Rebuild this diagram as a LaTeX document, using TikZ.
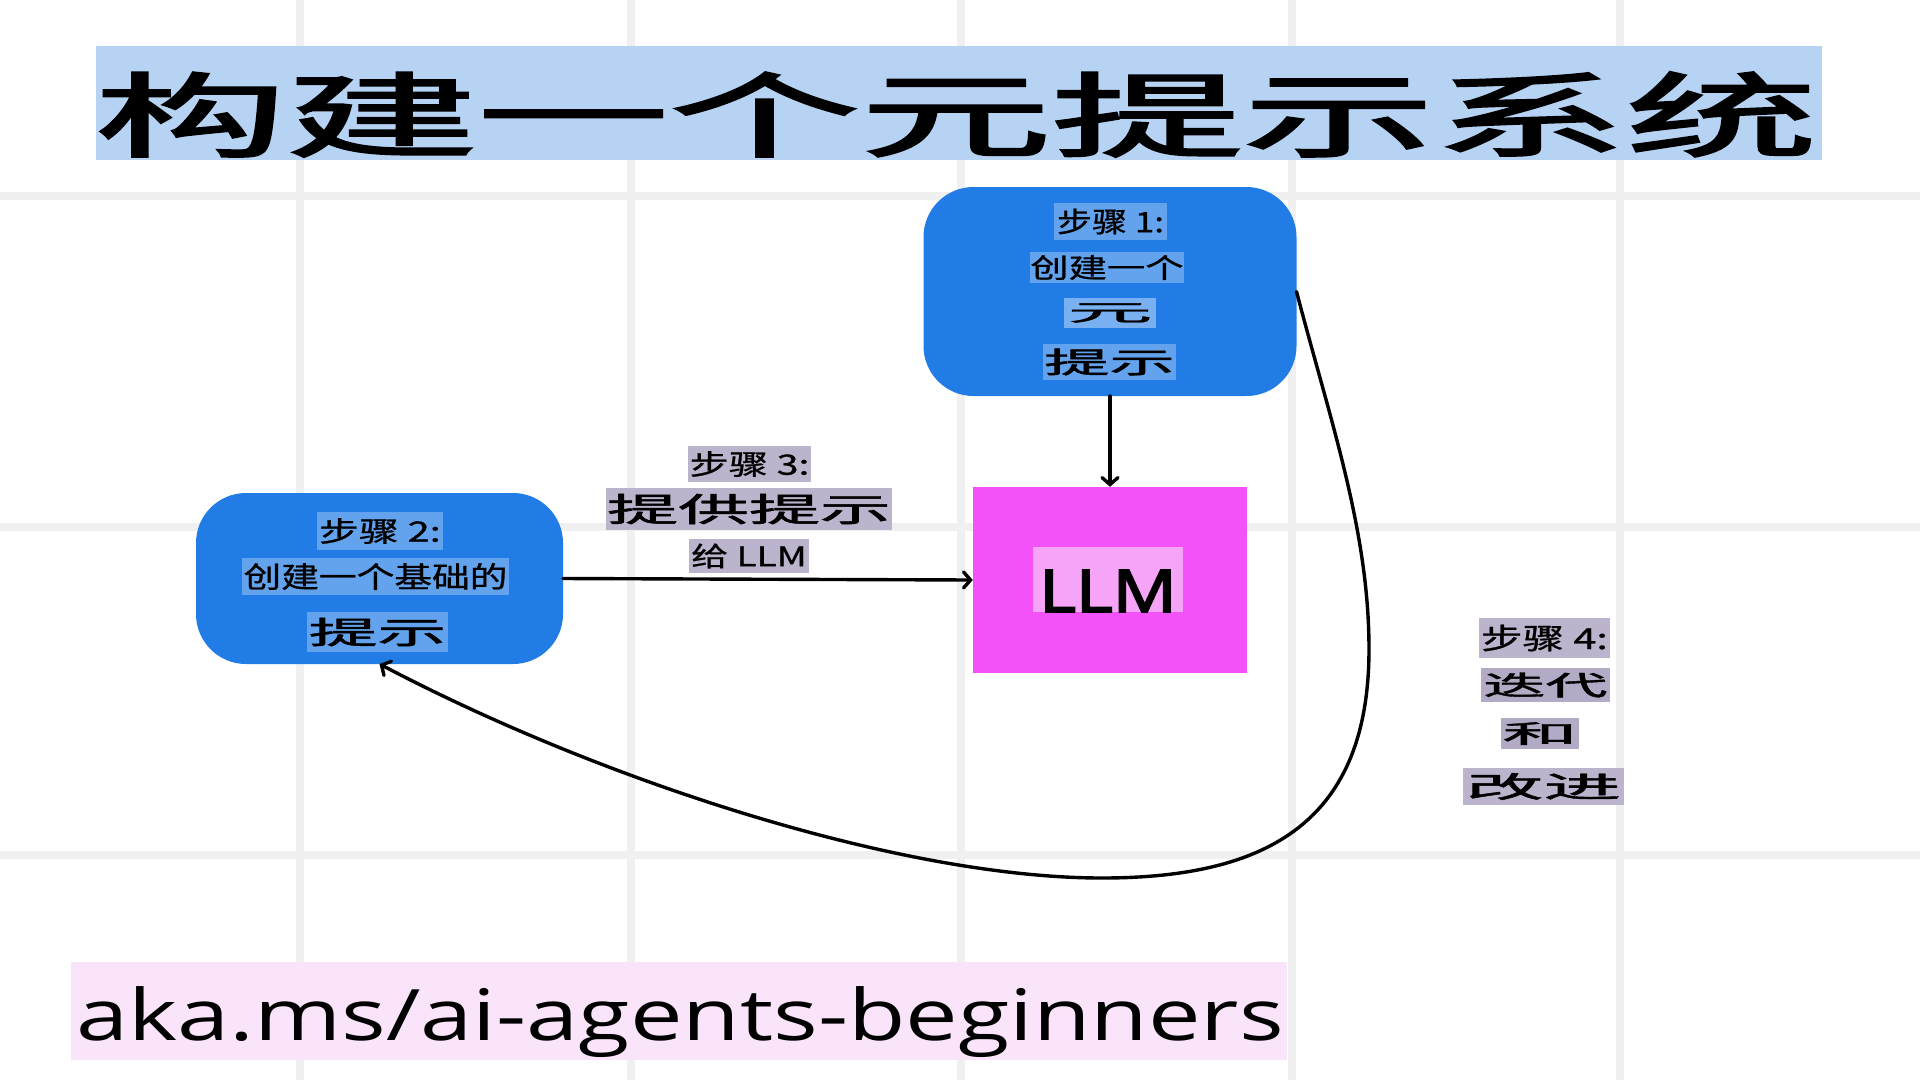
\documentclass[tikz,border=0pt]{standalone}
\usepackage{graphicx}
\usepackage{fontspec}
\setmainfont{Open Sans}
\newfontfamily\cjk[FakeBold=0.8]{Noto Sans CJK SC}
\newfontfamily\cjkm[FakeBold=1.4]{Noto Sans CJK SC}
\newfontfamily\cjkt[FakeBold=2]{Noto Sans CJK SC}
\newfontfamily\osans{Open Sans}
\newfontfamily\osansb[FakeBold=3]{Open Sans}
\usetikzlibrary{arrows.meta}
\definecolor{gridc}{HTML}{F0F0F0}
\definecolor{titlec}{HTML}{B7D3F4}
\definecolor{boxblue}{HTML}{227CE6}
\definecolor{bhl}{HTML}{63A3EE}
\definecolor{bhlb}{HTML}{78B0F1}
\definecolor{llmc}{HTML}{F352F8}
\definecolor{llmhl}{HTML}{F6A4F8}
\definecolor{urlc}{HTML}{F9E4F9}
\definecolor{shl}{HTML}{BCB4CC}
\definecolor{shld}{HTML}{B3AAC5}
\newcommand\mytx[3]{{\fontsize{#1pt}{#1pt}\selectfont\scalebox{#2}[1]{#3}}}
\begin{document}
\begin{tikzpicture}[x=1pt,y=-1pt,
  bluebox/.style={fill=boxblue, rounded corners=50pt, inner sep=0pt, outer sep=0pt},
  hlb/.style={fill=bhl, inner sep=0pt, outer sep=0pt, font=\cjk},
  hls/.style={fill=shl, inner sep=0pt, outer sep=0pt, font=\cjk},
  arr/.style={line width=3.4pt, line cap=round, -{Straight Barb[length=7pt,width=16pt,line cap=round]}}]
\fill[white] (0,0) rectangle (1920,1080);
\useasboundingbox (0,0) rectangle (1920,1080);
% grid
\foreach \x in {300,631,961,1292,1620} \fill[gridc] (\x-4,0) rectangle (\x+4,1080);
\foreach \y in {196,527,855} \fill[gridc] (0,\y-4) rectangle (1920,\y+4);
% title
\node[fill=titlec, minimum width=1726pt, minimum height=114pt, inner sep=0pt] (titlebar) at (959,103) {};
\node[inner sep=0pt] (title) at (956,114.5) {\cjkt\mytx{92}{2.08}{构建一个元提示系统}};
% box 1
\node[bluebox, minimum width=373pt, minimum height=209pt] (b1) at (1110,291.5) {};
\node[hlb, minimum width=113pt, minimum height=37pt] (b1a) at (1110.5,221.5) {\mytx{28}{1.25}{步骤 1:}};
\node[hlb, minimum width=154pt, minimum height=31pt] (b1b) at (1107,267.5) {\mytx{27}{1.42}{创建一个}};
\node[hlb, fill=bhlb, minimum width=92pt, minimum height=30pt, font=\cjkm] (b1c) at (1110,313) {\mytx{23}{3.7}{元}};
\node[hlb, minimum width=133pt, minimum height=36pt, font=\cjkm] (b1d) at (1109.5,362) {\mytx{29}{2.25}{提示}};
% LLM
\node[fill=llmc, minimum width=274pt, minimum height=186pt, inner sep=0pt] (llm) at (1110,580) {};
\node[fill=llmhl, minimum width=150pt, minimum height=65pt, inner sep=0pt] (llmhlbox) at (1108,579.5) {};
\node[inner sep=0pt] (llmt) at (1108,591) {\osansb\mytx{59}{1.2}{LLM}};
% box 2
\node[bluebox, minimum width=367pt, minimum height=171pt] (b2) at (379.5,578.5) {};
\node[hlb, minimum width=126pt, minimum height=38pt] (b2a) at (380,531) {\mytx{28}{1.42}{步骤 2:}};
\node[hlb, minimum width=267pt, minimum height=37pt] (b2b) at (375.5,576.5) {\mytx{29}{1.3}{创建一个基础的}};
\node[hlb, minimum width=141pt, minimum height=40pt, font=\cjkm] (b2c) at (377.5,632) {\mytx{31}{2.22}{提示}};
% step 3
\node[hls, minimum width=123pt, minimum height=36pt] (s3a) at (749.5,464) {\mytx{28}{1.4}{步骤 3:}};
\node[hls, minimum width=286pt, minimum height=42pt, font=\cjkm] (s3b) at (749,509) {\mytx{33}{2.15}{提供提示}};
\node[hls, minimum width=120pt, minimum height=34pt] (s3c) at (749,556) {\mytx{27}{1.37}{给 LLM}};
% step 4
\node[hls, minimum width=131pt, minimum height=40pt] (s4a) at (1544.5,638) {\mytx{29}{1.43}{步骤 4:}};
\node[hls, fill=shld, minimum width=129pt, minimum height=34pt, font=\cjkm] (s4b) at (1545.5,685) {\mytx{27}{2.3}{迭代}};
\node[hls, fill=shld, minimum width=78pt, minimum height=31pt, font=\cjkm] (s4c) at (1540,733.5) {\mytx{25}{3.0}{和}};
\node[hls, minimum width=161pt, minimum height=37pt, font=\cjkm] (s4d) at (1543.5,786.5) {\mytx{29}{2.67}{改进}};
% url
\node[fill=urlc, minimum width=1216pt, minimum height=98pt, inner sep=0pt] (urlbar) at (679,1011) {};
\node[anchor=base, inner sep=0pt] (url) at (680,1040) {\osans\mytx{71}{1.32}{aka.ms/ai-agents-beginners}};
% connectors
\draw[arr] (b1.south) -- (llm.north);
\draw[arr] (b2.east) -- (llm.west);
\coordinate (c1) at (1369,649);
\coordinate (c2) at (1102,878);
\draw[arr] (b1.east) .. controls (1330,420) and (1369,530) .. (c1)
  .. controls (1369,820) and (1270,878) .. (c2)
  .. controls (900,878) and (600,780) .. (b2.south);
\end{tikzpicture}
\end{document}
